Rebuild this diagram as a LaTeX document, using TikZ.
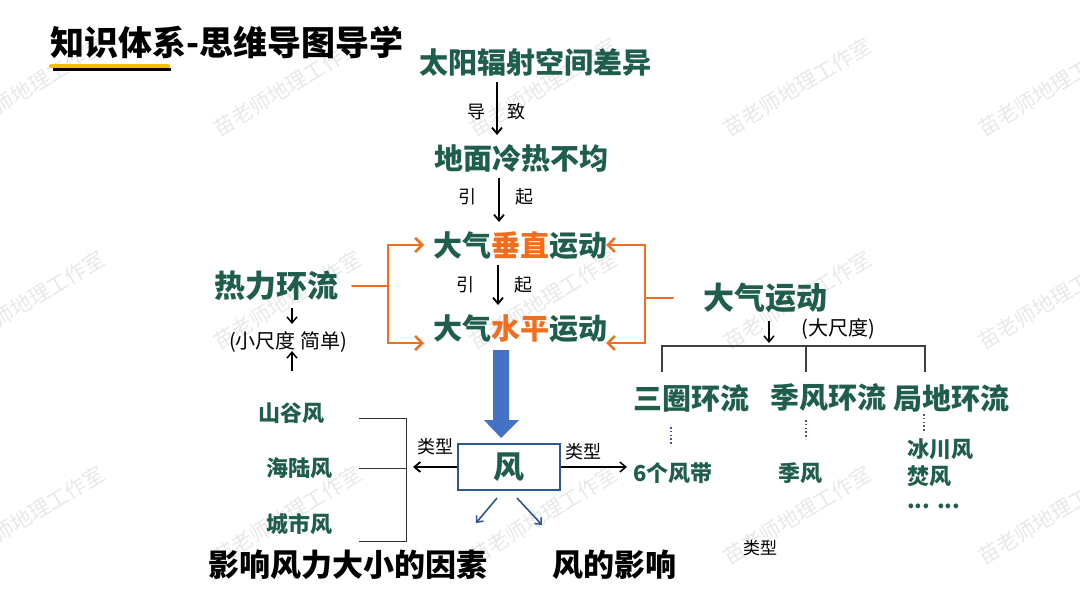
\documentclass[tikz,border=0pt]{standalone}
\usepackage{fontspec}
\setmainfont{Noto Sans CJK SC}
\usetikzlibrary{arrows.meta}

\definecolor{mgreen}{RGB}{31,94,76}
\definecolor{morange}{RGB}{240,110,30}
\definecolor{mblue}{RGB}{68,114,196}
\definecolor{mboxblue}{RGB}{47,85,151}
\definecolor{myellow}{RGB}{246,190,0}
\definecolor{mdots}{RGB}{68,84,140}

\begin{document}
\begin{tikzpicture}[x=1pt,y=-1pt,
	big/.style={inner sep=0pt, text=mgreen, font=\bfseries\fontsize{29}{29}\selectfont},
	mid/.style={inner sep=0pt, text=mgreen, font=\bfseries\fontsize{22}{22}\selectfont},
	lab/.style={inner sep=0pt, font=\fontsize{18}{18}\selectfont},
	blk/.style={inner sep=0pt, font=\bfseries\fontsize{31}{31}\selectfont},
	wm/.style={inner sep=0pt, text=black!9, font=\fontsize{21}{21}\selectfont},
	arr/.style={line width=1.8pt, -{Straight Barb[length=6pt,width=10pt]}},
	org/.style={line width=2.6pt, morange, line cap=round},
	orgarr/.style={org, -{Straight Barb[length=7pt,width=14pt]}},
	tree/.style={line width=1.2pt, black!75}]
	\useasboundingbox (0,0) rectangle (1080,608);

	% watermark
	\foreach \x in {30,287,543,797,1052}
		\foreach \y in {87,300,515}
			\node[wm,rotate=31] at (\x,\y) {苗老师地理工作室};

	% title
	\draw[line width=3pt] (53,69) -- (171,69);
	\draw[line width=4pt, myellow, line cap=round] (51,66) -- (168,66);
	\node[anchor=west, inner sep=0pt, font=\bfseries\fontsize{34}{34}\selectfont] (T) at (50,42) {知识体系-思维导图导学};

	% main chain
	\node[big] (TY) at (535,62) {太阳辐射空间差异};
	\node[big] (DM) at (521,158) {地面冷热不均};
	\node[big] (CZ) at (520,246) {大气\textcolor{morange}{垂直}运动};
	\node[big] (SP) at (520,329) {大气\textcolor{morange}{水平}运动};
	\coordinate (A1) at (497,82);  \coordinate (A2) at (497,135);
	\coordinate (B1) at (499,178); \coordinate (B2) at (499,222);
	\coordinate (C1) at (498,265); \coordinate (C2) at (498,305);
	\draw[arr] (A1) -- (A2);
	\draw[arr] (B1) -- (B2);
	\draw[arr] (C1) -- (C2);
	\node[lab] at (476,112) {导}; \node[lab] at (516,112) {致};
	\node[lab] at (467,197) {引}; \node[lab] at (524,197) {起};
	\node[lab] at (465,285) {引}; \node[lab] at (523,285) {起};

	% thermal circulation
	\node[big, font=\bfseries\fontsize{31}{31}\selectfont] (RL) at (276,286) {热力环流};
	\coordinate (L) at (388,286);
	\coordinate (LU) at (424,245); \coordinate (LD) at (424,343);
	\draw[org] ([xshift=14pt]RL.east) -- (L);
	\draw[orgarr] (L) |- (LU);
	\draw[orgarr] (L) |- (LD);
	\node[lab, font=\fontsize{20}{20}\selectfont] (XS) at (288,342) {(小尺度 简单)};
	\coordinate (D1) at (292,308); \coordinate (D2) at (292,324);
	\coordinate (U1) at (292,371); \coordinate (U2) at (292,351);
	\draw[arr, line width=1.5pt] (D1) -- (D2);
	\draw[arr, line width=1.5pt] (U1) -- (U2);

	% atmospheric motion
	\node[big, font=\bfseries\fontsize{31}{31}\selectfont] (DQ) at (765,298) {大气运动};
	\coordinate (R) at (645,298);
	\coordinate (RU) at (606,245); \coordinate (RD) at (606,343);
	\draw[org] ([xshift=-30pt]DQ.west) -- (R);
	\draw[orgarr] (R) |- (RU);
	\draw[orgarr] (R) |- (RD);
	\node[lab, font=\fontsize{20}{20}\selectfont] (DC) at (838,329) {(大尺度)};
	\coordinate (E1) at (769,321); \coordinate (E2) at (769,343);
	\draw[arr, line width=1.5pt] (E1) -- (E2);

	% tree
	\draw[tree] (662,372) -- (662,346) -- (925,346) -- (925,372);
	\draw[tree] (806,346) -- (806,372);
	\node[big] (SQ) at (691,398) {三圈环流};
	\node[big] (JF) at (828,398) {季风环流};
	\node[big] (JD) at (951,398) {局地环流};
	\draw[mdots, line width=1.6pt, dash pattern=on 1.6pt off 2.2pt] (671,427) -- (671,446);
	\draw[mdots, line width=1.6pt, dash pattern=on 1.6pt off 2.2pt] (806,420) -- (806,439);
	\draw[mdots, line width=1.6pt, dash pattern=on 1.6pt off 2.2pt] (924,414) -- (924,433);
	\node[mid] (FD) at (673,473) {6个风带};
	\node[mid] (JFF) at (800,473) {季风};
	\node[mid, anchor=west] (BC) at (907,449) {冰川风};
	\node[mid, anchor=west] (FF) at (907,476) {焚风};
	\node[mid, anchor=west] (MORE) at (907,506) {... ...};
	\node[lab, font=\fontsize{17}{17}\selectfont] (LX) at (760,548) {类型};

	% wind
	\fill[mblue] (493,350) -- (509,350) -- (509,420) -- (519,420) -- (501,438) -- (484,420) -- (493,420) -- cycle;
	\node[draw=mboxblue, line width=1.5pt, minimum width=102pt, minimum height=46pt, inner sep=0pt,
		text=mgreen, font=\bfseries\fontsize{31}{31}\selectfont] (F) at (509,467) {风};
	\coordinate (FL) at (413,467); \coordinate (FR) at (627,467);
	\draw[arr] (F.west) -- (FL);
	\draw[arr, line width=1.5pt] (F.east) -- (FR);
	\node[lab] at (435,447) {类型};
	\node[lab] at (583,452) {类型};
	\coordinate (G1) at (497,498); \coordinate (G2) at (476,523);
	\coordinate (H1) at (517,498); \coordinate (H2) at (542,525);
	\draw[mboxblue, line width=1.6pt, -{Straight Barb[length=5pt,width=9pt]}] (G1) -- (G2);
	\draw[mboxblue, line width=1.6pt, -{Straight Barb[length=5pt,width=9pt]}] (H1) -- (H2);

	% local winds
	\draw[line width=0.9pt, black!80] (359,418) -- (406,418) -- (406,541) -- (359,541);
	\draw[line width=0.9pt, black!80] (359,468) -- (406,468);
	\node[mid] (SG) at (291,413) {山谷风};
	\node[mid] (HL) at (299,468) {海陆风};
	\node[mid] (CS) at (299,524) {城市风};

	% bottom
	\node[blk] (YX) at (348,565) {影响风力大小的因素};
	\node[blk] (FY) at (614,565) {风的影响};
\end{tikzpicture}
\end{document}
